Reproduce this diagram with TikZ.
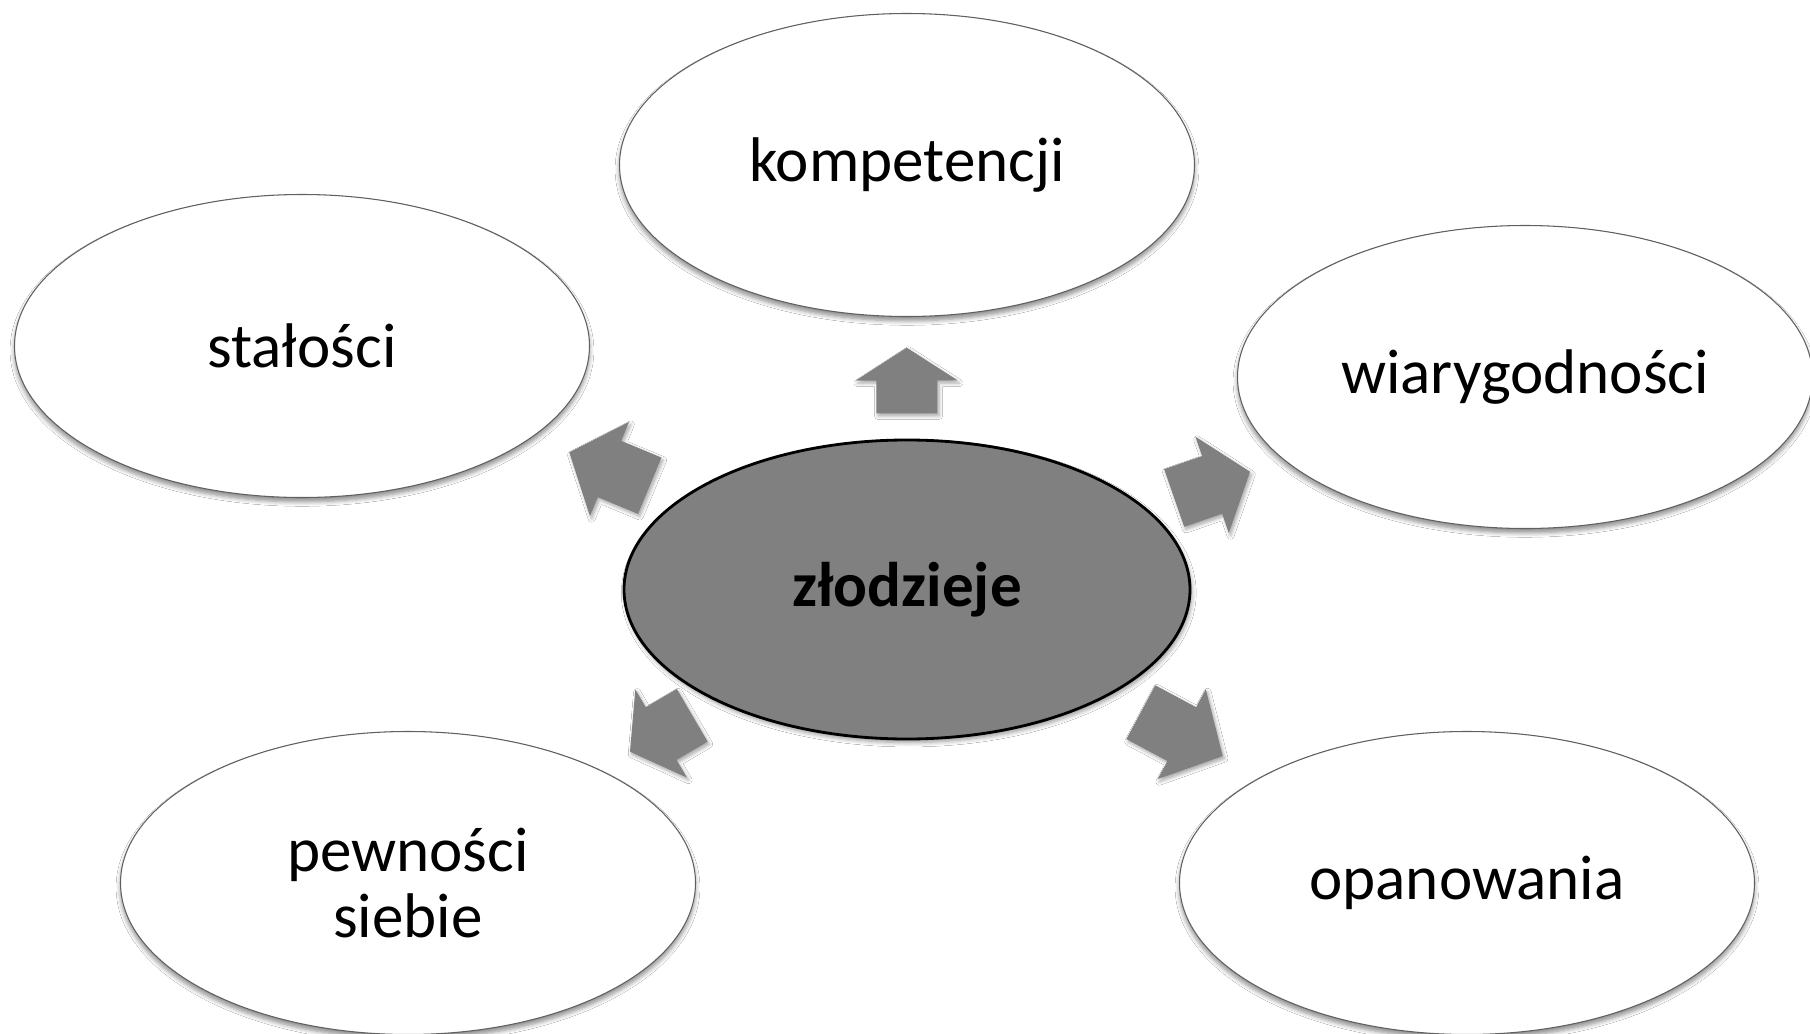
\documentclass[tikz,border=0pt]{standalone}
\usepackage{fontspec}
\setmainfont{Carlito}
\usetikzlibrary{shapes.geometric,calc,shadows,shadows.blur}

\tikzset{
  x=0.02cm, y=-0.02cm,
  labeltext/.style={font=\fontsize{35.9}{38.1}\selectfont, align=center},
  outerbox/.style={ellipse, draw=gray!75!black, line width=0.6pt, fill=white,
    minimum width=575*0.02cm, minimum height=303*0.02cm, inner sep=0pt,
    blur shadow={shadow xshift=0pt, shadow yshift=-2.5pt, shadow blur steps=6,
      shadow blur radius=2.5pt, shadow opacity=45},
    labeltext},
  hubbox/.style={ellipse, draw=black, line width=1.6pt, fill=black!50,
    minimum width=566*0.02cm, minimum height=299*0.02cm, inner sep=0pt,
    blur shadow={shadow xshift=1pt, shadow yshift=-2pt, shadow blur steps=6,
      shadow blur radius=2.5pt, shadow opacity=40},
    labeltext, font=\fontsize{35.9}{38.1}\selectfont\bfseries},
  blockarrow/.style={fill=black!50, draw=none,
    blur shadow={shadow xshift=1pt, shadow yshift=-1.5pt, shadow blur steps=5,
      shadow blur radius=2pt, shadow opacity=35}}
}

% block arrow from the middle of its tail (#1) to its tip (#2)
\newcommand{\blockarrowfrom}[2]{%
  \coordinate (bah) at ($(#1)!0.5!(#2)$);
  \fill[blockarrow]
    ($(#1)!0.61cm!90:(#2)$) -- ($(bah)!0.61cm!90:(#2)$) --
    ($(bah)!1.02cm!90:(#2)$) -- (#2) --
    ($(bah)!1.02cm!-90:(#2)$) -- ($(bah)!0.61cm!-90:(#2)$) --
    ($(#1)!0.61cm!-90:(#2)$) -- cycle;
}

\begin{document}
\begin{tikzpicture}
\useasboundingbox (0,0) rectangle (1810,1034);
\clip (0,0) rectangle (1810,1034);
\fill[white] (0,0) rectangle (1810,1034);

% surrounding qualities
\node[outerbox] (komp) at (907,165) {kompetencji};
\node[outerbox] (stal) at (302,346) {stałości};
\node[outerbox] (wiar) at (1525,377) {wiarygodności};
\node[outerbox] (pewn) at (408,883) {pewności\\siebie};
\node[outerbox] (opan) at (1467,883) {opanowania};

% central node
\node[hubbox] (hub) at (907,589.5) {złodzieje};

% arrow tails and tips
\coordinate (t1) at (906.8,413.3);  \coordinate (p1) at (906.7,347.7);
\coordinate (t2) at (649.7,485.7);  \coordinate (p2) at (569.3,452.3);
\coordinate (t3) at (1174.2,498);   \coordinate (p3) at (1250,471.7);
\coordinate (t4) at (1140.8,712.2); \coordinate (p4) at (1222.7,756);
\coordinate (t5) at (692.2,715.3);  \coordinate (p5) at (630,751.7);

\blockarrowfrom{t1}{p1}
\blockarrowfrom{t2}{p2}
\blockarrowfrom{t3}{p3}
\blockarrowfrom{t4}{p4}
\blockarrowfrom{t5}{p5}
\end{tikzpicture}
\end{document}
